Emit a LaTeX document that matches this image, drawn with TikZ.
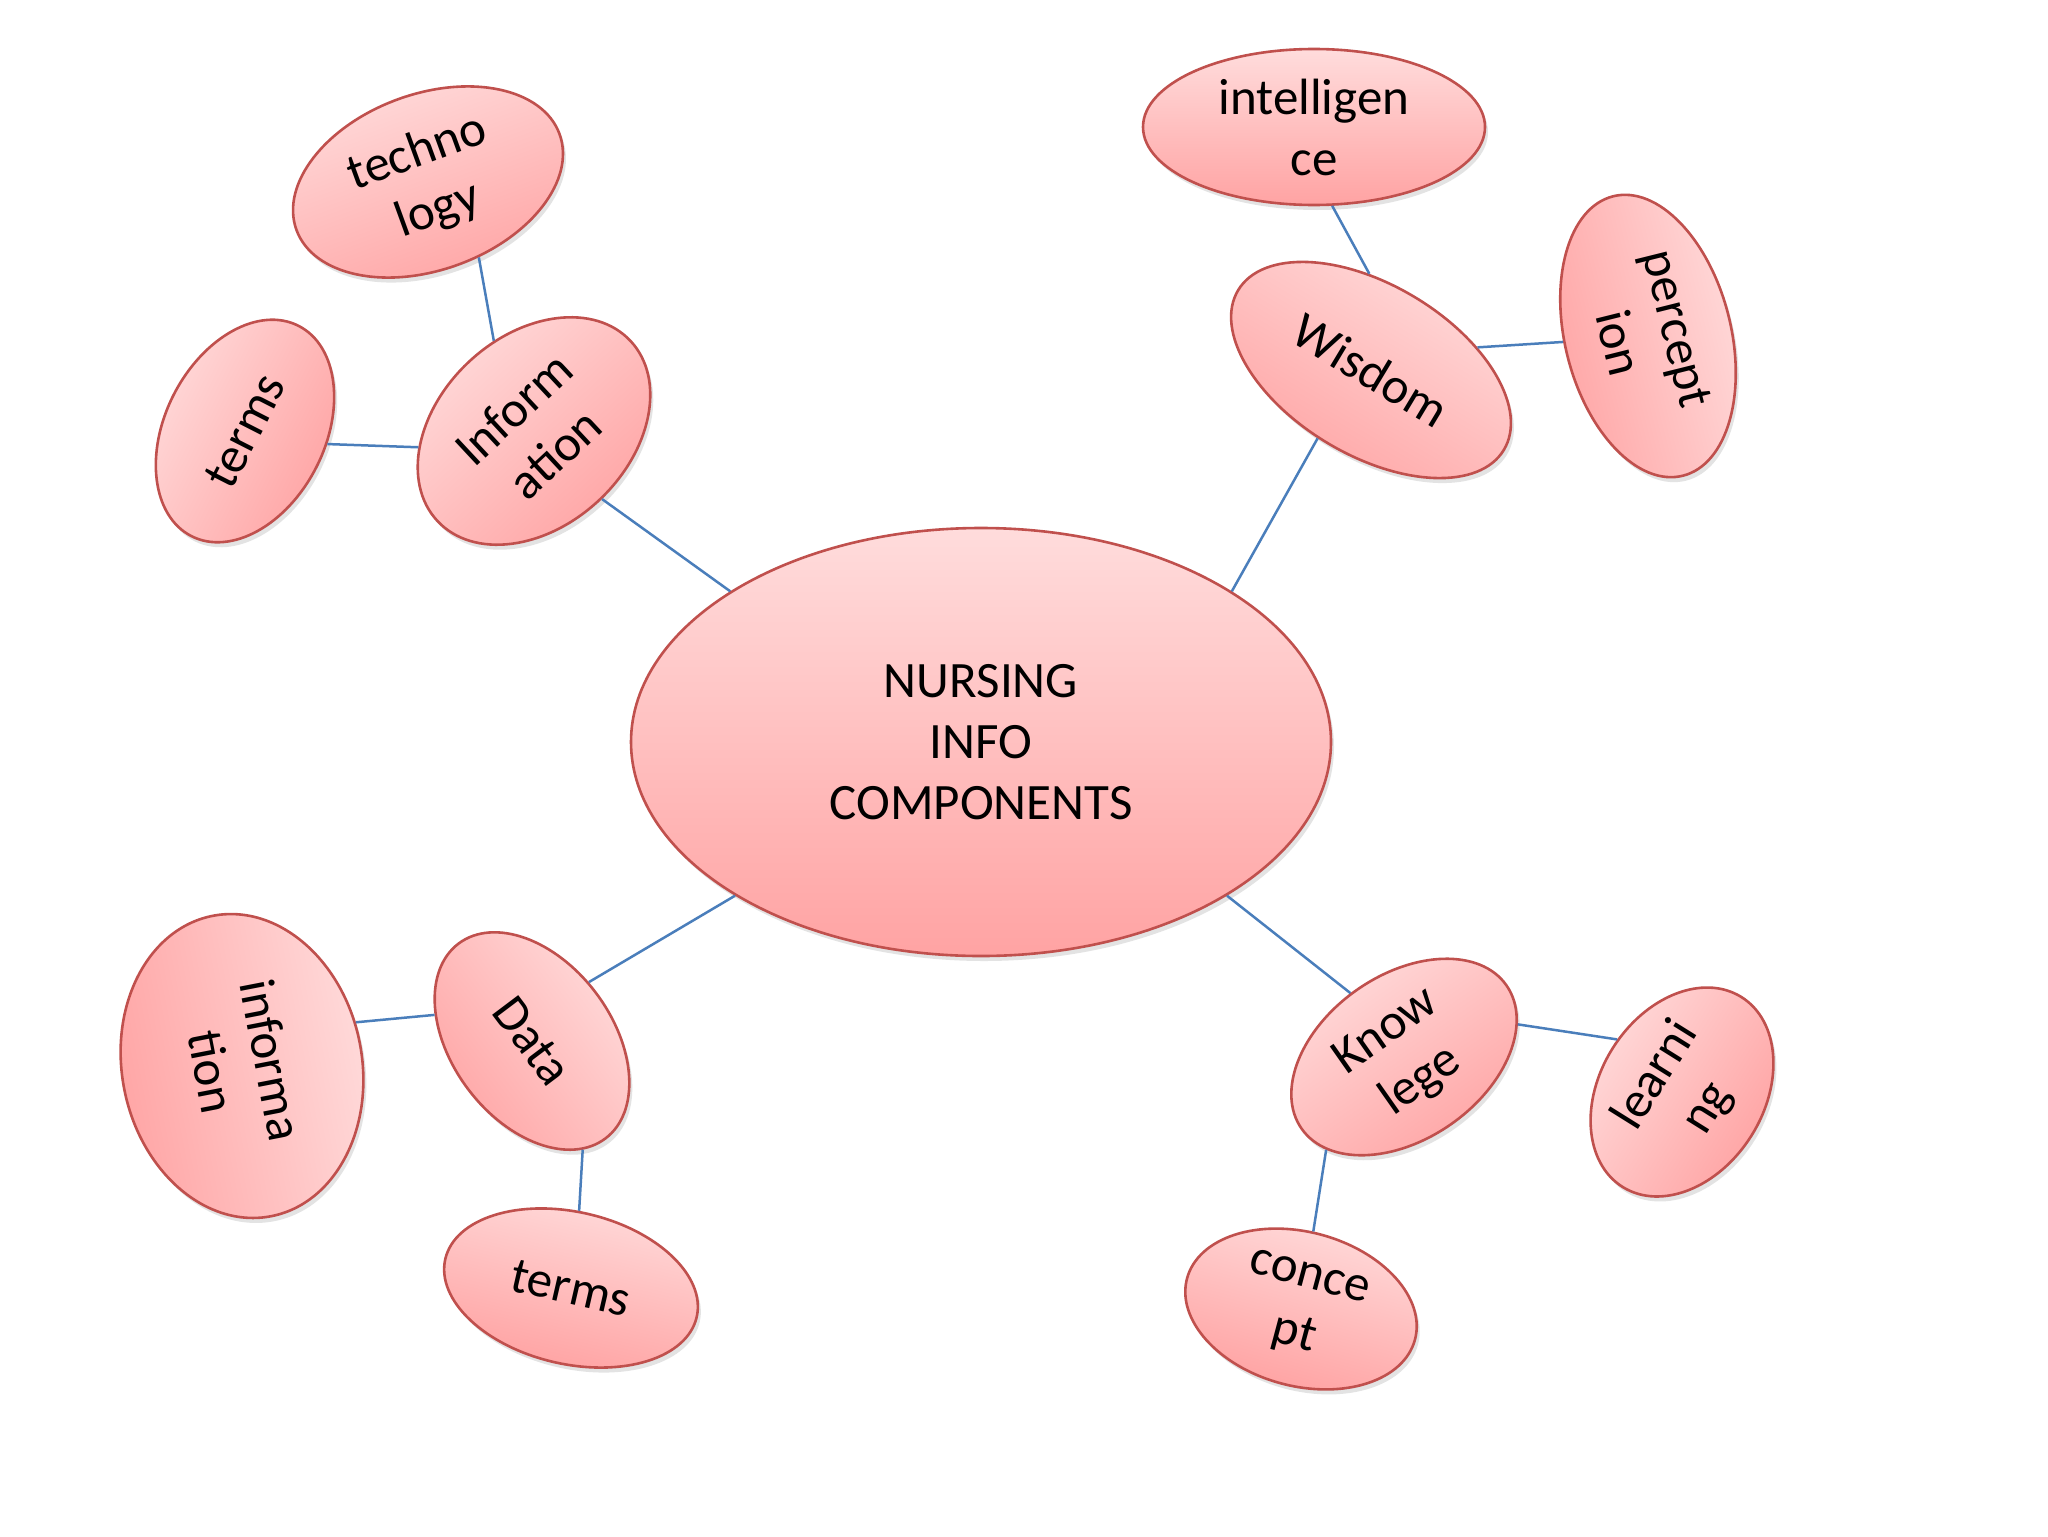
\documentclass[tikz,border=0pt]{standalone}
\usepackage{fontspec}
\setmainfont{Carlito}
\usetikzlibrary{shapes.geometric,shadows}
\definecolor{pinktop}{HTML}{FFDCDC}
\definecolor{pinkbot}{HTML}{FFA3A3}
\definecolor{rimred}{HTML}{C0504D}
\definecolor{linkblue}{HTML}{4A7EBB}
\tikzset{
  bubble/.style={ellipse, draw=rimred, line width=1.3pt, top color=pinktop, bottom color=pinkbot,
    inner sep=0pt, align=center, font=\fontsize{25.5}{30.5}\selectfont,
    drop shadow={opacity=0.22, shadow xshift=1.5pt, shadow yshift=-2.5pt}},
  turned/.style={rotate=#1, shading angle=#1},
  link/.style={draw=linkblue, line width=1.25pt}
}
\begin{document}
\begin{tikzpicture}[x=0.5pt,y=-0.5pt]
\useasboundingbox[fill=white] (0,0) rectangle (2048,1536);
\node[bubble, minimum width=350pt, minimum height=214pt] (hub) at (981,742) {NURSING\\INFO\\COMPONENTS};
\node[bubble, minimum width=140pt, minimum height=88pt, turned=20] (tech) at (428,182) {techno\\logy};
\node[bubble, minimum width=118pt, minimum height=80pt, turned=63] (termsA) at (245,431) {terms};
\node[bubble, minimum width=132pt, minimum height=95pt, turned=43] (info) at (534,431) {Inform\\ation};
\node[bubble, minimum width=155pt, minimum height=85pt, turned=-31] (wis) at (1371,370) {Wisdom};
\node[bubble, minimum width=171pt, minimum height=78pt] (intel) at (1314,127) {intelligen\\ce};
\node[bubble, minimum width=144pt, minimum height=83pt, turned=-76] (perc) at (1648,336) {percept\\ion};
\node[bubble, minimum width=122pt, minimum height=80pt, turned=-53] (data) at (532,1041) {Data};
\node[bubble, minimum width=153pt, minimum height=120pt, turned=-79] (infm) at (242,1066) {informa\\tion};
\node[bubble, minimum width=129pt, minimum height=76pt, turned=-13] (termsB) at (571,1288) {terms};
\node[bubble, minimum width=125pt, minimum height=82pt, turned=35] (know) at (1404,1057) {Know\\lege};
\node[bubble, minimum width=118pt, minimum height=77pt, turned=-15] (conc) at (1301,1309) {conce\\pt};
\node[bubble, minimum width=112pt, minimum height=82pt, turned=58] (learn) at (1682,1092) {learni\\ng};
\path[link] (info.272) -- (hub.149);
\path[link] (wis.263) -- (hub.31);
\path[link] (data.99) -- (hub.212);
\path[link] (know.95) -- (hub.328);
\path[link] (tech.284) -- (info.71);
\path[link] (termsA.288) -- (info.145);
\path[link] (intel.283) -- (wis.122);
\path[link] (wis.43) -- (perc.260);
\path[link] (infm.100) -- (data.218);
\path[link] (data.348) -- (termsB.97);
\path[link] (know.341) -- (learn.83);
\path[link] (know.195) -- (conc.96);
\end{tikzpicture}
\end{document}
